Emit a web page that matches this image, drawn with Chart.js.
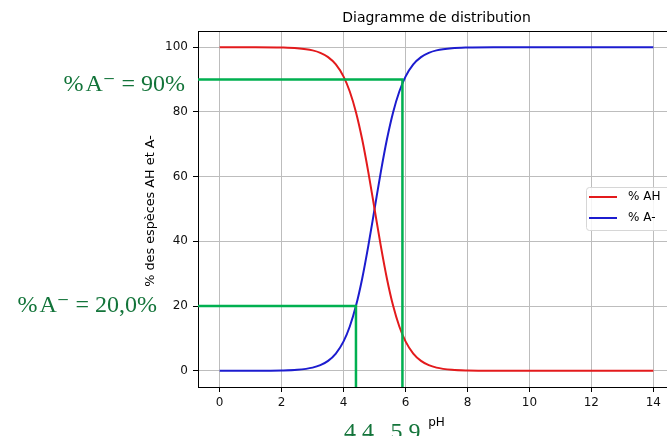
<!DOCTYPE html>
<html>
<head>
<meta charset="utf-8">
<script src="https://cdn.jsdelivr.net/npm/chart.js@4"></script>
<style>
  html, body { margin: 0; padding: 0; background: #fff; overflow: hidden; }
  #wrap { width: 680px; height: 436px; }
</style>
</head>
<body>
<div id="wrap"><canvas id="distChart" width="680" height="436"></canvas></div>
<script>
// values
var pH    = [0, 1, 2, 2.5, 3, 3.25, 3.5, 3.75, 4, 4.2, 4.4, 4.6, 4.8, 5, 5.2, 5.4, 5.6, 5.8, 6, 6.25, 6.5, 6.75, 7, 7.5, 8, 9, 10, 11, 12, 13, 14];
var pctAH = [100, 99.99, 99.9, 99.68, 99.01, 98.25, 96.93, 94.68, 90.91, 86.32, 79.92, 71.53, 61.32, 50, 38.68, 28.47, 20.08, 13.68, 9.09, 5.32, 3.07, 1.75, 0.99, 0.32, 0.1, 0.01, 0, 0, 0, 0, 0];
var pctA  = [0, 0.01, 0.1, 0.32, 0.99, 1.75, 3.07, 5.32, 9.09, 13.68, 20.08, 28.47, 38.68, 50, 61.32, 71.53, 79.92, 86.32, 90.91, 94.68, 96.93, 98.25, 99.01, 99.68, 99.9, 99.99, 100, 100, 100, 100, 100];

var xTicks = [0, 2, 4, 6, 8, 10, 12, 14];
var yTicks = [0, 20, 40, 60, 80, 100];

// green reading marks
var markPH    = [4.4, 5.9];
var markPct   = [20, 90];
var markPHTxt = ['4.4', '5.9'];
var markPctTxt = ['%\u200AA\u207B = 20,0%', '%\u200AA\u207B = 90%'];

var titleTxt = 'Diagramme de distribution';
var xLabel = 'pH';
var yLabel = '% des espèces AH et A-';

function pts(xs, ys) {
  return xs.map(function(x, i) { return {x: x, y: ys[i]}; });
}

var extras = {
  id: 'extras',
  afterDatasetsDraw: function(chart) {
    var ctx = chart.ctx, a = chart.chartArea;
    var xs = chart.scales.x, ys = chart.scales.y;
    ctx.save();
    // top spine
    ctx.strokeStyle = '#000'; ctx.lineWidth = 1;
    ctx.beginPath(); ctx.moveTo(a.left, a.top + 0.5); ctx.lineTo(a.right, a.top + 0.5); ctx.stroke();

    // green lines
    ctx.strokeStyle = '#00b050'; ctx.lineWidth = 2.5;
    for (var i = 0; i < markPH.length; i++) {
      var px = xs.getPixelForValue(markPH[i]);
      var py = ys.getPixelForValue(markPct[i]);
      ctx.beginPath();
      ctx.moveTo(a.left, py); ctx.lineTo(px, py); ctx.lineTo(px, a.bottom);
      ctx.stroke();
    }

    // green serif texts
    ctx.fillStyle = '#13743a';
    ctx.font = '24px "Liberation Serif", "DejaVu Serif", serif';
    ctx.textBaseline = 'alphabetic';
    ctx.textAlign = 'right';
    ctx.fillText(markPctTxt[0], 157, 312);
    ctx.fillText(markPctTxt[1], 185, 91);
    ctx.textAlign = 'center';
    for (var j = 0; j < markPH.length; j++) {
      var cx = xs.getPixelForValue(markPH[j]);
      ctx.fillText(markPHTxt[j], cx + 3, 439);
    }

    // title and axis labels
    ctx.fillStyle = '#000';
    var mid = (a.left + a.right) / 2;
    ctx.font = '14px "DejaVu Sans", sans-serif';
    ctx.textAlign = 'center';
    ctx.fillText(titleTxt, mid, 22);
    ctx.font = '12px "DejaVu Sans", sans-serif';
    ctx.fillText(xLabel, mid, 426);
    ctx.save();
    ctx.font = '12.8px "DejaVu Sans", sans-serif';
    ctx.translate(151, 211);
    ctx.rotate(-Math.PI / 2);
    ctx.textBaseline = 'middle';
    ctx.fillText(yLabel, 0, 0);
    ctx.restore();

    // legend
    var lx = 586, ly = 187, lw = 100, lh = 43;
    ctx.fillStyle = 'rgba(255,255,255,0.85)';
    ctx.strokeStyle = '#d6d6d6'; ctx.lineWidth = 1;
    ctx.beginPath();
    ctx.roundRect(lx + 0.5, ly + 0.5, lw, lh, 3);
    ctx.fill(); ctx.stroke();
    ctx.font = '12px "DejaVu Sans", sans-serif';
    ctx.textAlign = 'left'; ctx.textBaseline = 'middle';
    chart.data.datasets.forEach(function(ds, k) {
      var yy = 197 + k * 21;
      ctx.strokeStyle = ds.borderColor; ctx.lineWidth = 2;
      ctx.beginPath(); ctx.moveTo(589, yy); ctx.lineTo(617, yy); ctx.stroke();
      ctx.fillStyle = '#000';
      ctx.fillText(ds.label, 628, yy);
    });
    ctx.restore();
  }
};

var ctxD = document.getElementById('distChart').getContext('2d');
var distChart = new Chart(ctxD, {
  type: 'line',
  data: {
    datasets: [{
      label: '% AH',
      data: pts(pH, pctAH),
      borderColor: '#e31a1c',
      borderWidth: 2,
      pointRadius: 0,
      cubicInterpolationMode: 'monotone',
      fill: false
    }, {
      label: '% A-',
      data: pts(pH, pctA),
      borderColor: '#1c1ccf',
      borderWidth: 2,
      pointRadius: 0,
      cubicInterpolationMode: 'monotone',
      fill: false
    }]
  },
  options: {
    responsive: false,
    animation: false,
    events: [],
    layout: { padding: { top: 31, right: 5, bottom: 0, left: 0 } },
    plugins: { legend: { display: false }, title: { display: false }, tooltip: { enabled: false } },
    scales: {
      x: {
        type: 'linear', min: -0.7, max: 14.7,
        afterBuildTicks: function(s) { s.ticks = xTicks.map(function(v) { return {value: v}; }); },
        afterFit: function(s) { s.height = 49; },
        grid: { color: '#bdbdbd', lineWidth: 1, tickColor: '#000', tickLength: 5 },
        border: { color: '#000', width: 1 },
        ticks: { color: '#111', padding: 4, font: { family: 'DejaVu Sans', size: 12 }, maxRotation: 0 }
      },
      y: {
        type: 'linear', min: -5, max: 105,
        afterBuildTicks: function(s) { s.ticks = yTicks.map(function(v) { return {value: v}; }); },
        afterFit: function(s) { s.width = 198; },
        grid: { color: '#bdbdbd', lineWidth: 1, tickColor: '#000', tickLength: 5 },
        border: { color: '#000', width: 1 },
        ticks: { color: '#111', padding: 5, font: { family: 'DejaVu Sans', size: 12 } }
      }
    }
  },
  plugins: [extras]
});
</script>
</body>
</html>
